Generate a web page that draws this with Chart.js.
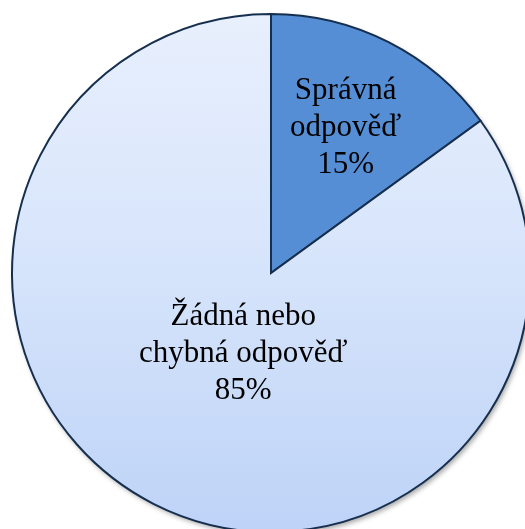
<!DOCTYPE html>
<html>
<head>
<meta charset="utf-8">
<script src="https://cdn.jsdelivr.net/npm/chart.js@4"></script>
<style>
  html, body { margin: 0; padding: 0; background: #fff; overflow: hidden; }
  #wrap { position: absolute; left: 0; top: 0; width: 542px; height: 546px; }
</style>
</head>
<body>
<div id="wrap"><canvas id="pie"></canvas></div>
<script>
const categories = [['Správná', 'odpověď'], ['Žádná nebo', 'chybná odpověď']];
const percents = [15, 85];

const darkBlue = '#558ed5';
const edge = '#172f4f';

// label placement: fraction of radius along the slice's middle angle, plus nudge
const labelSpots = [{ f: 0.635, dx: 0, dy: 0 }, { f: 0.33, dx: 11, dy: 3 }];

const lightFill = (ctx) => {
    const area = ctx.chart.chartArea;
    if (!area) return '#d6e3fb';
    const g = ctx.chart.ctx.createLinearGradient(0, area.top, 0, area.bottom);
    g.addColorStop(0, '#e9f0fd');
    g.addColorStop(0.5, '#d6e4fb');
    g.addColorStop(1, '#bcd2f7');
    return g;
};

const shadowPlugin = {
    id: 'pieShadow',
    beforeDatasetsDraw(chart) {
        const arc = chart.getDatasetMeta(0).data[0];
        if (!arc) return;
        const c = chart.ctx;
        c.save();
        c.shadowColor = 'rgba(0,0,0,0.35)';
        c.shadowBlur = 5;
        c.shadowOffsetX = 2;
        c.shadowOffsetY = 3;
        c.fillStyle = '#d6e4fb';
        c.beginPath();
        c.arc(arc.x, arc.y, arc.outerRadius, 0, Math.PI * 2);
        c.fill();
        c.restore();
    }
};

const labelPlugin = {
    id: 'sliceLabels',
    afterDatasetsDraw(chart) {
        const c = chart.ctx;
        const meta = chart.getDatasetMeta(0);
        c.save();
        c.font = '31px "Liberation Serif", "Times New Roman", serif';
        c.fillStyle = '#000';
        c.textAlign = 'center';
        c.textBaseline = 'alphabetic';
        meta.data.forEach((arc, i) => {
            const mid = (arc.startAngle + arc.endAngle) / 2;
            const spot = labelSpots[i];
            const x = arc.x + Math.cos(mid) * arc.outerRadius * spot.f + spot.dx;
            const y = arc.y + Math.sin(mid) * arc.outerRadius * spot.f + spot.dy;
            const lines = categories[i].concat([percents[i] + '%']);
            const lh = 37;
            const base = y + 10 - lh * (lines.length - 1) / 2;
            lines.forEach((t, k) => c.fillText(t, x, base + k * lh));
        });
        c.restore();
    }
};

new Chart(document.getElementById('pie'), {
    type: 'pie',
    data: {
        labels: categories.map(l => l.join(' ')),
        datasets: [{
            data: percents,
            backgroundColor: (ctx) => ctx.dataIndex === 0 ? darkBlue : lightFill(ctx),
            borderColor: edge,
            borderWidth: 2,
            borderJoinStyle: 'miter'
        }]
    },
    options: {
        responsive: true,
        maintainAspectRatio: false,
        animation: false,
        radius: 259,
        layout: { padding: 0 },
        plugins: {
            legend: { display: false },
            tooltip: { enabled: false }
        }
    },
    plugins: [shadowPlugin, labelPlugin]
});
</script>
</body>
</html>
